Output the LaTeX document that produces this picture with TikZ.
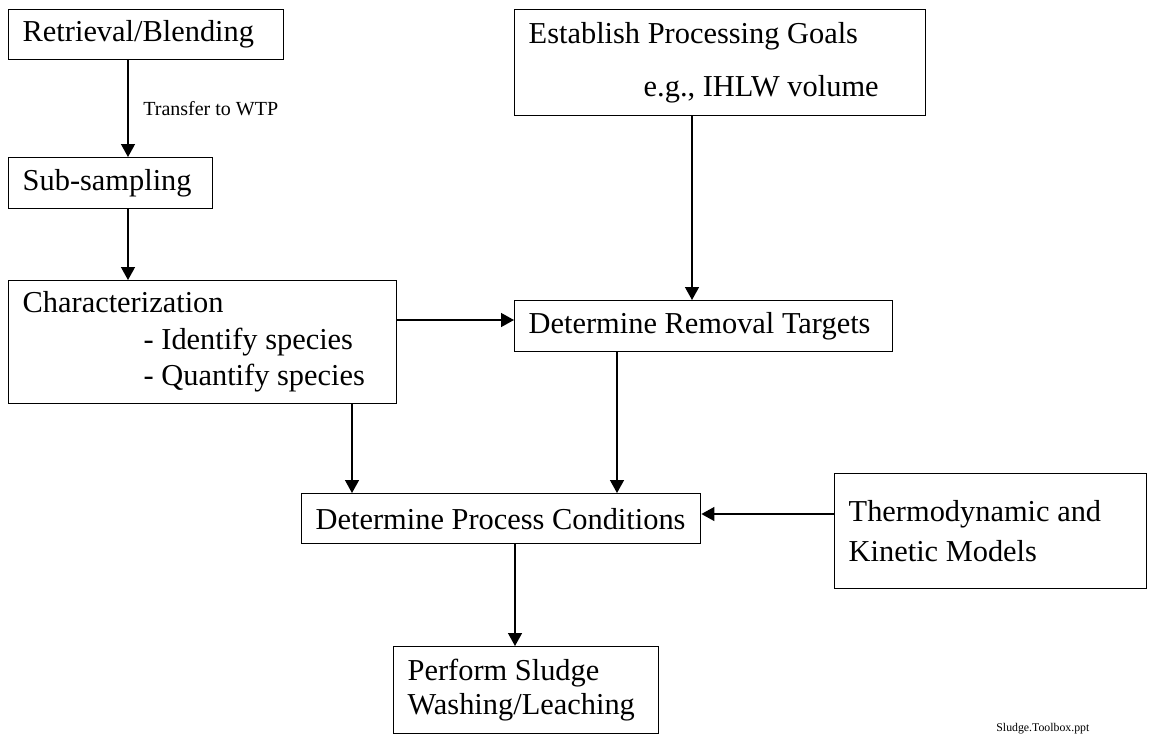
\documentclass[tikz,border=0pt]{standalone}
\usepackage{fontspec}
\setmainfont{Liberation Serif}
\usetikzlibrary{arrows.meta}

\begin{document}
\begin{tikzpicture}[x=0.5pt,y=-0.5pt,
  box/.style={draw,line width=0.7pt,anchor=north west,inner xsep=7pt,inner ysep=0pt,align=flush left,
    font=\fontsize{15.2}{18.25}\selectfont},
  arr/.style={line width=0.7pt,-{Triangle[length=6.5pt,width=7pt]}}]
\useasboundingbox (0,0) rectangle (1154,735);

\node[box,text width=123.5pt,minimum height=25pt] (ret) at (8,9) {Retrieval/Blending};
\node[box,text width=88pt,minimum height=25.5pt] (sub) at (8,157) {Sub-sampling};
\node[box,text width=180pt,minimum height=61.5pt] (char) at (8,280)
  {Characterization\\\hspace*{60.5pt}- Identify species\\\hspace*{60.5pt}- Quantify species};
\node[box,text width=191.5pt,minimum height=53pt] (goals) at (514,9)
  {Establish Processing Goals\\[8.25pt]\hspace*{57.5pt}e.g., IHLW volume};
\node[box,text width=175pt,minimum height=25.5pt] (rem) at (514,300) {Determine Removal Targets};
\node[box,text width=185.5pt,minimum height=25pt] (cond) at (301,493) {Determine Process Conditions};
\node[box,text width=142pt,minimum height=57.5pt] (thermo) at (834,473)
  {Thermodynamic and\\[1.75pt]Kinetic Models};
\node[box,text width=118.5pt,minimum height=43.5pt] (perf) at (393,646)
  {Perform Sludge\\[-1.25pt]Washing/Leaching};

\coordinate (c1) at (128,0);
\coordinate (c2) at (352,0);
\coordinate (c3) at (617,0);
\coordinate (c4) at (692,0);
\coordinate (c5) at (515,0);
\coordinate (r1) at (0,320);
\coordinate (r2) at (0,514);

\draw[arr] (ret.south -| c1) -- (sub.north -| c1)
  node[midway,right=4pt,font=\fontsize{10}{12}\selectfont] (wtp) {Transfer to WTP};
\draw[arr] (sub.south -| c1) -- (char.north -| c1);
\draw[arr] (goals.south -| c4) -- (rem.north -| c4);
\draw[arr] (char.east |- r1) -- (rem.west |- r1);
\draw[arr] (char.south -| c2) -- (cond.north -| c2);
\draw[arr] (rem.south -| c3) -- (cond.north -| c3);
\draw[arr] (thermo.west |- r2) -- (cond.east |- r2);
\draw[arr] (cond.south -| c5) -- (perf.north -| c5);

\node[anchor=west,inner sep=0pt,font=\fontsize{5.9}{7}\selectfont] (file) at (996,729) {Sludge.Toolbox.ppt};
\end{tikzpicture}
\end{document}
